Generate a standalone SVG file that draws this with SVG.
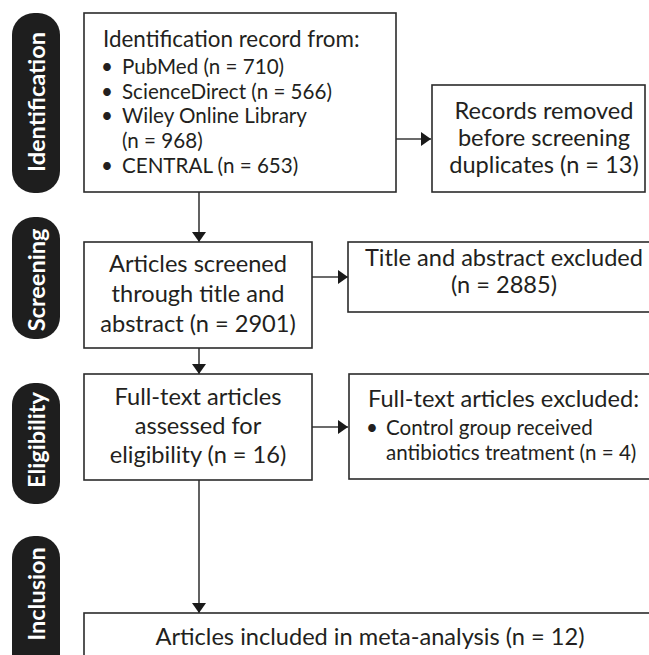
<svg xmlns="http://www.w3.org/2000/svg" width="649" height="655" viewBox="0 0 649 655">
<style>
.box{fill:#fff;stroke:#2b2b2b;stroke-width:1.6}
.pill{fill:#1e1e1e}
.pt{font-family:Lato,"Open Sans","Liberation Sans",sans-serif;font-weight:bold;font-size:23.5px;fill:#fff;text-anchor:middle;dominant-baseline:central}
.t{font-family:Lato,"Liberation Sans",sans-serif;font-size:23.6px;fill:#231f20}
.h{font-size:22.4px}
.s{font-family:Lato,"Liberation Sans",sans-serif;font-size:20.6px;fill:#231f20}
.c{text-anchor:middle}
.ln{stroke:#3a3a3a;stroke-width:1.6;fill:none}
</style>
<defs>
<marker id="ah" viewBox="0 0 10 14" refX="10" refY="7" markerWidth="10" markerHeight="14" markerUnits="userSpaceOnUse" orient="auto">
<path d="M0,0 L10,7 L0,14 Z" fill="#1a1a1a"/>
</marker>
</defs>
<g id="stages">
<g id="stage-identification"><rect class="pill" x="12" y="13" width="48" height="180" rx="22"/><text class="pt" transform="translate(36,102) rotate(-90)">Identification</text></g>
<g id="stage-screening"><rect class="pill" x="12" y="217" width="48" height="122" rx="22"/><text class="pt" transform="translate(36,280) rotate(-90)">Screening</text></g>
<g id="stage-eligibility"><rect class="pill" x="12" y="383" width="48" height="121" rx="22"/><text class="pt" transform="translate(36,440) rotate(-90)">Eligibility</text></g>
<g id="stage-inclusion"><rect class="pill" x="12" y="536" width="48" height="140" rx="22"/><text class="pt" transform="translate(36,594) rotate(-90)">Inclusion</text></g>
</g>
<g id="connectors">
<line class="ln" x1="396" y1="139" x2="431" y2="139" marker-end="url(#ah)"/>
<line class="ln" x1="199" y1="192" x2="199" y2="242" marker-end="url(#ah)"/>
<line class="ln" x1="312" y1="277" x2="348" y2="277" marker-end="url(#ah)"/>
<line class="ln" x1="199" y1="348" x2="199" y2="374" marker-end="url(#ah)"/>
<line class="ln" x1="312" y1="427" x2="348" y2="427" marker-end="url(#ah)"/>
<line class="ln" x1="199" y1="480" x2="199" y2="613" marker-end="url(#ah)"/>
</g>
<g id="identification">
<rect class="box" x="84" y="13" width="312" height="179"/>
<text class="t h" x="103" y="47">Identification record from:</text>
<text class="s" x="101" y="74">•</text><text class="s" x="122" y="74">PubMed (n = 710)</text>
<text class="s" x="101" y="99">•</text><text class="s" x="122" y="99">ScienceDirect (n = 566)</text>
<text class="s" x="101" y="123">•</text><text class="s" x="122" y="123">Wiley Online Library</text>
<text class="s" x="122" y="148">(n = 968)</text>
<text class="s" x="101" y="173">•</text><text class="s" x="122" y="173">CENTRAL (n = 653)</text>
</g>
<g id="duplicates">
<rect class="box" x="432" y="85" width="213" height="107"/>
<text class="t c" x="544" y="119">Records removed</text>
<text class="t c" x="544" y="146">before screening</text>
<text class="t c" x="544" y="173">duplicates (n = 13)</text>
</g>
<g id="screened">
<rect class="box" x="84" y="242" width="228" height="106"/>
<text class="t c" x="198" y="272">Articles screened</text>
<text class="t c" x="198" y="302">through title and</text>
<text class="t c" x="198" y="332">abstract (n = 2901)</text>
</g>
<g id="title-excluded">
<rect class="box" x="348" y="242" width="312" height="70"/>
<text class="t c" x="504" y="266">Title and abstract excluded</text>
<text class="t c" x="504" y="293">(n = 2885)</text>
</g>
<g id="eligibility">
<rect class="box" x="84" y="374" width="228" height="106"/>
<text class="t c" x="198" y="405">Full-text articles</text>
<text class="t c" x="198" y="434">assessed for</text>
<text class="t c" x="198" y="463">eligibility (n = 16)</text>
</g>
<g id="fulltext-excluded">
<rect class="box" x="349" y="374" width="312" height="105"/>
<text class="t" x="368" y="407">Full-text articles excluded:</text>
<text class="s" x="366" y="435">•</text><text class="s" x="386" y="435">Control group received</text>
<text class="s" x="386" y="460">antibiotics treatment (n = 4)</text>
</g>
<g id="included">
<rect class="box" x="84" y="613" width="600" height="80"/>
<text class="t c" x="370" y="645">Articles included in meta-analysis (n = 12)</text>
</g>
</svg>
